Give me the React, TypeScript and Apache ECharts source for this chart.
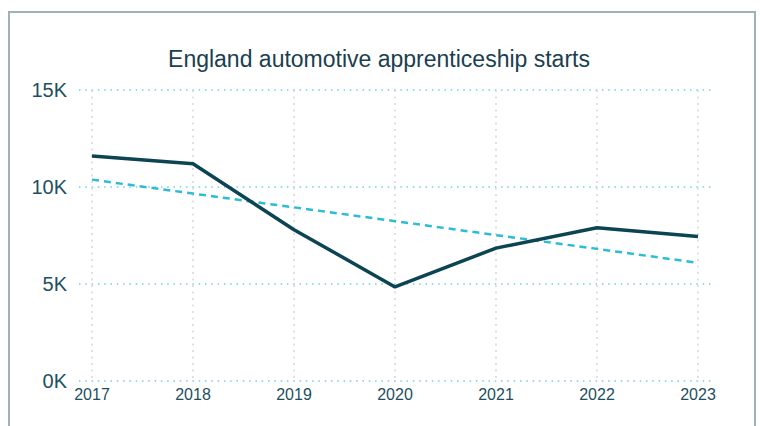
import React, { useEffect, useRef } from "react";
import * as echarts from "echarts";

const years = ["2017", "2018", "2019", "2020", "2021", "2022", "2023"];
const starts = [11600, 11200, 7800, 4850, 6850, 7900, 7450];
const trend = [10380, 9660, 8950, 8240, 7520, 6810, 6090];
const yTicks = [0, 5000, 10000, 15000];

const FONT = "Liberation Sans, Arial, sans-serif";
const TEXT = "#1d4f61";

export default function App() {
  const ref = useRef<HTMLDivElement>(null);
  useEffect(() => {
    if (!ref.current) return;
    const chart = echarts.init(ref.current, undefined, { renderer: "svg" });
    chart.setOption({
      animation: false,
      backgroundColor: "#ffffff",
      title: {
        text: "England automotive apprenticeship starts",
        left: 374,
        top: 42,
        textAlign: "center",
        textStyle: { fontFamily: FONT, fontSize: 23, fontWeight: "normal", color: "#1a4050" },
      },
      grid: [
        { left: 79, right: 48, top: 90, bottom: 45 },
        { left: 92, right: 62, top: 90, bottom: 45 },
      ],
      xAxis: [
        { type: "category", gridIndex: 0, data: years, show: false },
        {
          type: "category",
          gridIndex: 1,
          data: years,
          boundaryGap: false,
          axisLine: { show: false },
          axisTick: { show: false },
          axisLabel: { margin: 5, fontFamily: FONT, fontSize: 16, color: TEXT },
          splitLine: { show: true, lineStyle: { type: [2, 4.5], color: "#d6d6d6", width: 1.5 } },
        },
      ],
      yAxis: [
        {
          type: "value",
          gridIndex: 0,
          min: yTicks[0],
          max: yTicks[yTicks.length - 1],
          interval: 5000,
          axisLine: { show: false },
          axisTick: { show: false },
          axisLabel: {
            margin: 12,
            fontFamily: FONT,
            fontSize: 20,
            color: TEXT,
            formatter: (v: number) => v / 1000 + "K",
          },
          splitLine: { lineStyle: { type: [1.5, 4.8], color: "#6dd1e3", width: 1.6 } },
        },
        {
          type: "value",
          gridIndex: 1,
          min: yTicks[0],
          max: yTicks[yTicks.length - 1],
          interval: 5000,
          show: false,
          splitLine: { show: false },
        },
      ],
      series: [
        {
          type: "line",
          xAxisIndex: 1,
          yAxisIndex: 1,
          data: trend,
          showSymbol: false,
          lineStyle: { color: "#2cbcd4", width: 2.5, type: [7, 5] },
          z: 2,
        },
        {
          type: "line",
          xAxisIndex: 1,
          yAxisIndex: 1,
          data: starts,
          showSymbol: false,
          lineStyle: { color: "#0b4452", width: 3.5 },
          z: 3,
        },
      ],
    });
    return () => chart.dispose();
  }, []);
  return (
    <div style={{ position: "fixed", left: 0, top: 0, width: 760, height: 426, background: "#fff" }}>
      <div ref={ref} style={{ position: "absolute", left: 0, top: 0, width: 760, height: 426 }} />
      <div
        style={{
          position: "absolute",
          left: 8,
          top: 11,
          width: 748,
          height: 430,
          border: "2px solid #9fb3b3",
          boxSizing: "border-box",
          pointerEvents: "none",
        }}
      />
    </div>
  );
}
